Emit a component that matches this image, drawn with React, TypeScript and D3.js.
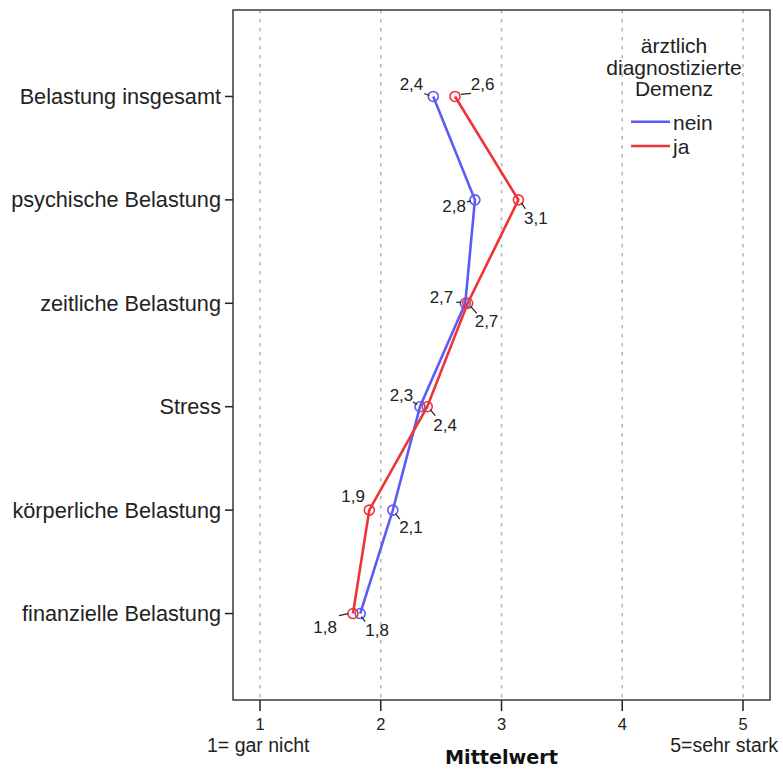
import React from "react";
import * as d3 from "d3";

const categories = [
  "Belastung insgesamt",
  "psychische Belastung",
  "zeitliche Belastung",
  "Stress",
  "körperliche Belastung",
  "finanzielle Belastung",
];
const neinValues = [2.435, 2.78, 2.7, 2.325, 2.1, 1.83];
const jaValues = [2.615, 3.14, 2.72, 2.385, 1.905, 1.77];
const xTicks = [1, 2, 3, 4, 5];
const seriesNames = ["nein", "ja"];
const legendTitle = ["ärztlich", "diagnostizierte", "Demenz"];

// label layout: [dx, dy, anchor, leader x1, y1, x2, y2] relative to point
type Lay = [number, number, string, number, number, number, number] | [number, number, string];
const neinLayout: Lay[] = [
  [-10, -6.7, "end", -9, -3, -4, -1],
  [-9, 11.7, "end", -8, 2, -4, 1],
  [-12, 0, "end", -9, -1, -4, -1],
  [-6.7, -6, "end", -7, -5, -3, -2],
  [6.3, 22.6, "start", 3, 4, 7, 9],
  [5, 22.7, "start", 1, 3, 5, 8],
];
const jaLayout: Lay[] = [
  [15.7, -6.7, "start", 6, -2, 16, -3],
  [5.7, 24, "start", 3, 3, 7, 9],
  [7, 24, "start", 3, 3, 9, 10],
  [6, 24.3, "start", 3, 3, 8, 9],
  [-4.3, -8, "end"],
  [-16, 19.3, "end", -14, 2, -5, 0],
];

const W = 783;
const H = 769;
const left = 233;
const right = 770;
const top = 10;
const bottom = 700;
const BLUE = "#5a5cf5";
const RED = "#ee3535";
const FONT = "'Liberation Sans', Arial, sans-serif";

export default function App() {
  const x = d3.scaleLinear().domain([1, 5]).range([260, 743]);
  const y = d3.scalePoint<string>().domain(categories).range([top, bottom]).padding(0.836);
  const fmt = (v: number) => d3.format(".1f")(v).replace(".", ",");
  const line = d3
    .line<number>()
    .x((d) => x(d))
    .y((_, i) => y(categories[i]) as number);

  const series = [
    { name: seriesNames[0], values: neinValues, color: BLUE, layout: neinLayout },
    { name: seriesNames[1], values: jaValues, color: RED, layout: jaLayout },
  ];

  return (
    <svg
      width={W}
      height={H}
      style={{ position: "absolute", left: 0, top: 0, display: "block", background: "#fff" }}
    >
      {/* grid */}
      {xTicks.map((t) => (
        <line
          key={"g" + t}
          x1={x(t)}
          x2={x(t)}
          y1={top}
          y2={bottom}
          stroke="#b4b4b4"
          strokeWidth={1.5}
          strokeDasharray="3.5,5.5"
        />
      ))}
      {/* frame */}
      <rect x={left} y={top} width={right - left} height={bottom - top} fill="none" stroke="#3a3a3a" strokeWidth={1.5} />
      {/* x ticks */}
      {xTicks.map((t) => (
        <g key={"xt" + t}>
          <line x1={x(t)} x2={x(t)} y1={bottom} y2={bottom + 11} stroke="#222" strokeWidth={1.5} />
          <text x={x(t)} y={730} textAnchor="middle" fontFamily={FONT} fontSize={16.5} fill="#222">
            {t}
          </text>
        </g>
      ))}
      <text x={207} y={751.7} fontFamily={FONT} fontSize={19.5} fill="#222">
        1= gar nicht
      </text>
      <text x={778} y={751.7} textAnchor="end" fontFamily={FONT} fontSize={19.5} fill="#222">
        5=sehr stark
      </text>
      <text
        x={501.5}
        y={763.5}
        textAnchor="middle"
        fontFamily="'DejaVu Sans', Verdana, sans-serif"
        fontWeight="bold"
        fontSize={19.2}
        fill="#111"
      >
        Mittelwert
      </text>
      {/* y ticks */}
      {categories.map((c) => (
        <g key={"yt" + c}>
          <line x1={left - 8} x2={left} y1={y(c)} y2={y(c)} stroke="#222" strokeWidth={1.5} />
          <text
            x={221}
            y={(y(c) as number) + 7.5}
            textAnchor="end"
            fontFamily={FONT}
            fontSize={21.7}
            fill="#222"
          >
            {c}
          </text>
        </g>
      ))}
      {/* series */}
      {series.map((s) => (
        <g key={s.name}>
          <path d={line(s.values) || ""} fill="none" stroke={s.color} strokeWidth={2.6} />
          {s.values.map((v, i) => {
            const px = x(v);
            const py = y(categories[i]) as number;
            return (
              <circle key={i} cx={px} cy={py} r={5} fill="none" stroke={s.color} strokeWidth={1.6} />
            );
          })}
        </g>
      ))}
      {/* labels */}
      {series.map((s) => (
        <g key={"l" + s.name}>
          {s.values.map((v, i) => {
            const px = x(v);
            const py = y(categories[i]) as number;
            const L = s.layout[i];
            return (
              <g key={i}>
                {L.length > 3 && (
                  <line
                    x1={px + (L as any)[3]}
                    y1={py + (L as any)[4]}
                    x2={px + (L as any)[5]}
                    y2={py + (L as any)[6]}
                    stroke="#222"
                    strokeWidth={1.2}
                  />
                )}
                <text
                  x={px + L[0]}
                  y={py + L[1]}
                  textAnchor={L[2] as any}
                  fontFamily={FONT}
                  fontSize={17}
                  fill="#222"
                >
                  {fmt(v)}
                </text>
              </g>
            );
          })}
        </g>
      ))}
      {/* legend */}
      {legendTitle.map((t, i) => (
        <text key={t} x={674} y={53 + i * 21.5} textAnchor="middle" fontFamily={FONT} fontSize={21} fill="#222">
          {t}
        </text>
      ))}
      {series.map((s, i) => (
        <g key={"lg" + s.name}>
          <line x1={631} x2={670} y1={121.7 + i * 24.3} y2={121.7 + i * 24.3} stroke={s.color} strokeWidth={2.6} />
          <text x={673} y={129.5 + i * 24.3} fontFamily={FONT} fontSize={21} fill="#222">
            {s.name}
          </text>
        </g>
      ))}
    </svg>
  );
}
